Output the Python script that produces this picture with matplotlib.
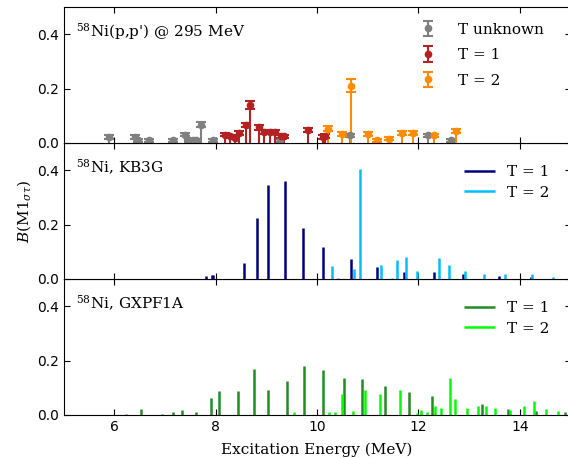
import numpy as np
import matplotlib
matplotlib.use("Agg")
import matplotlib.pyplot as plt

# --- Experimental 58Ni(p,p') M1 strengths ---
exp_unk_e = [5.90, 6.41, 6.47, 6.68, 7.16, 7.39, 7.47, 7.55, 7.62, 7.71, 7.95, 9.27, 10.65, 12.18, 12.64]
exp_unk_b = [0.022, 0.022, 0.010, 0.010, 0.010, 0.031, 0.010, 0.010, 0.010, 0.067, 0.010, 0.010, 0.028, 0.028, 0.010]
exp_unk_err = [0.006, 0.006, 0.005, 0.005, 0.005, 0.007, 0.005, 0.005, 0.005, 0.010, 0.005, 0.005, 0.006, 0.006, 0.005]

exp_t1_e = [8.18, 8.28, 8.38, 8.47, 8.60, 8.68, 8.85, 8.96, 9.07, 9.18, 9.29, 9.35, 9.83, 10.11, 10.16]
exp_t1_b = [0.030, 0.025, 0.020, 0.037, 0.065, 0.140, 0.057, 0.041, 0.041, 0.041, 0.025, 0.025, 0.047, 0.022, 0.026]
exp_t1_err = [0.006, 0.006, 0.006, 0.007, 0.008, 0.015, 0.008, 0.007, 0.007, 0.007, 0.006, 0.006, 0.008, 0.006, 0.006]

exp_t2_e = [10.21, 10.49, 10.67, 11.01, 11.18, 11.42, 11.67, 11.89, 12.31, 12.74]
exp_t2_b = [0.053, 0.032, 0.211, 0.032, 0.010, 0.016, 0.038, 0.038, 0.028, 0.043]
exp_t2_err = [0.008, 0.007, 0.025, 0.007, 0.005, 0.006, 0.007, 0.007, 0.006, 0.008]

# --- Shell model, KB3G ---
kb3g_t1_e = [7.81, 7.93, 7.95, 8.56, 8.82, 9.03, 9.37, 9.73, 10.12, 10.68, 11.18, 11.71, 12.31, 12.87, 13.59, 14.23]
kb3g_t1_b = [0.012, 0.015, 0.016, 0.060, 0.226, 0.347, 0.362, 0.186, 0.119, 0.072, 0.045, 0.025, 0.027, 0.020, 0.010, 0.007]
kb3g_t2_e = [10.29, 10.42, 10.73, 10.85, 11.27, 11.48, 11.58, 11.75, 11.98, 12.40, 12.60, 12.91, 13.30, 13.71, 14.25, 14.65]
kb3g_t2_b = [0.047, 0.003, 0.037, 0.403, 0.052, 0.003, 0.070, 0.082, 0.030, 0.078, 0.053, 0.031, 0.019, 0.020, 0.019, 0.009]

# --- Shell model, GXPF1A ---
gx_t1_e = [6.24, 6.53, 6.95, 7.15, 7.33, 7.61, 7.91, 8.06, 8.45, 8.75, 9.03, 9.40, 9.74, 10.12, 10.53,
           10.89, 11.35, 11.81, 12.27, 13.25, 13.76, 14.32, 14.90]
gx_t1_b = [0.003, 0.022, 0.003, 0.010, 0.018, 0.011, 0.062, 0.087, 0.089, 0.169, 0.092, 0.124, 0.180, 0.165, 0.135,
           0.131, 0.108, 0.083, 0.071, 0.039, 0.023, 0.015, 0.012]
gx_t2_e = [9.55, 10.23, 10.36, 10.50, 10.71, 10.95, 11.25, 11.64, 11.98, 12.05, 12.16, 12.32, 12.45, 12.63,
           12.73, 12.95, 13.18, 13.33, 13.52, 13.80, 14.08, 14.28, 14.52, 14.76]
gx_t2_b = [0.011, 0.010, 0.010, 0.077, 0.015, 0.093, 0.078, 0.093, 0.009, 0.017, 0.010, 0.032, 0.026, 0.135,
           0.059, 0.026, 0.032, 0.032, 0.027, 0.017, 0.034, 0.051, 0.023, 0.016]

XTICKS = [6, 8, 10, 12, 14]
YTICKS = [0.0, 0.2, 0.4]
XLIM = (5, 15)
YLIM = (0, 0.5)

SERIF = "DejaVu Serif"
TEXT_SIZE = 11
TICK_SIZE = 10
BAR_LW = 1.8

plt.rcParams["mathtext.fontset"] = "dejavuserif"

fig = plt.figure(figsize=(5.68, 4.58), dpi=100)

# three stacked panels sharing the energy axis
left, width = 63.5 / 568, 507 / 568
h = 136 / 458
b0 = 43 / 458
ax_gx = fig.add_axes([left, b0, width, h])
ax_kb = fig.add_axes([left, b0 + h, width, h], sharex=ax_gx)
ax_ex = fig.add_axes([left, b0 + 2 * h, width, h], sharex=ax_gx)

for ax in (ax_ex, ax_kb, ax_gx):
    ax.set_xlim(*XLIM)
    ax.set_ylim(*YLIM)
    ax.set_xticks(XTICKS)
    ax.set_yticks(YTICKS)
    ax.tick_params(direction="in", top=True, right=True, labelsize=TICK_SIZE, length=4)
    ax.set_yticklabels([f"{v:.1f}" for v in YTICKS])
for ax in (ax_ex, ax_kb):
    ax.tick_params(labelbottom=False)

# experiment: stems + error bars
def exp_series(ax, e, b, err, color, label):
    ax.vlines(e, 0, b, color=color, lw=1.5)
    ax.errorbar(e, b, yerr=err, fmt="o", ms=4.5, color=color, ecolor=color,
                elinewidth=1.5, capsize=3.5, capthick=1.5, label=label)

exp_series(ax_ex, exp_unk_e, exp_unk_b, exp_unk_err, "gray", "T unknown")
exp_series(ax_ex, exp_t1_e, exp_t1_b, exp_t1_err, "firebrick", "T = 1")
exp_series(ax_ex, exp_t2_e, exp_t2_b, exp_t2_err, "darkorange", "T = 2")

# shell model strengths as sticks
ax_kb.vlines(kb3g_t1_e, 0, kb3g_t1_b, color="navy", lw=BAR_LW, label="T = 1")
ax_kb.vlines(kb3g_t2_e, 0, kb3g_t2_b, color="deepskyblue", lw=BAR_LW, label="T = 2")
ax_gx.vlines(gx_t1_e, 0, gx_t1_b, color="forestgreen", lw=BAR_LW, label="T = 1")
ax_gx.vlines(gx_t2_e, 0, gx_t2_b, color="lime", lw=BAR_LW, label="T = 2")

labels = [r"$^{58}$Ni(p,p') @ 295 MeV", r"$^{58}$Ni, KB3G", r"$^{58}$Ni, GXPF1A"]
for ax, txt in zip((ax_ex, ax_kb, ax_gx), labels):
    ax.text(0.025, 0.82, txt, transform=ax.transAxes, va="center", ha="left",
            fontsize=TEXT_SIZE, family=SERIF)

legend_font = {"family": SERIF, "size": TEXT_SIZE}
ax_ex.legend(loc="upper right", bbox_to_anchor=(0.975, 0.985), frameon=False,
             prop=legend_font, labelspacing=0.75, handletextpad=1.0)
for ax in (ax_kb, ax_gx):
    ax.legend(loc="upper right", bbox_to_anchor=(0.985, 0.94), frameon=False,
              prop=legend_font, labelspacing=0.45)

ax_gx.set_xlabel("Excitation Energy (MeV)", fontsize=TEXT_SIZE, family=SERIF, labelpad=6)
ax_kb.set_ylabel(r"$B(\mathrm{M1}_{\sigma\tau})$", fontsize=TEXT_SIZE, labelpad=2)

fig.savefig("out.png", dpi=100)
